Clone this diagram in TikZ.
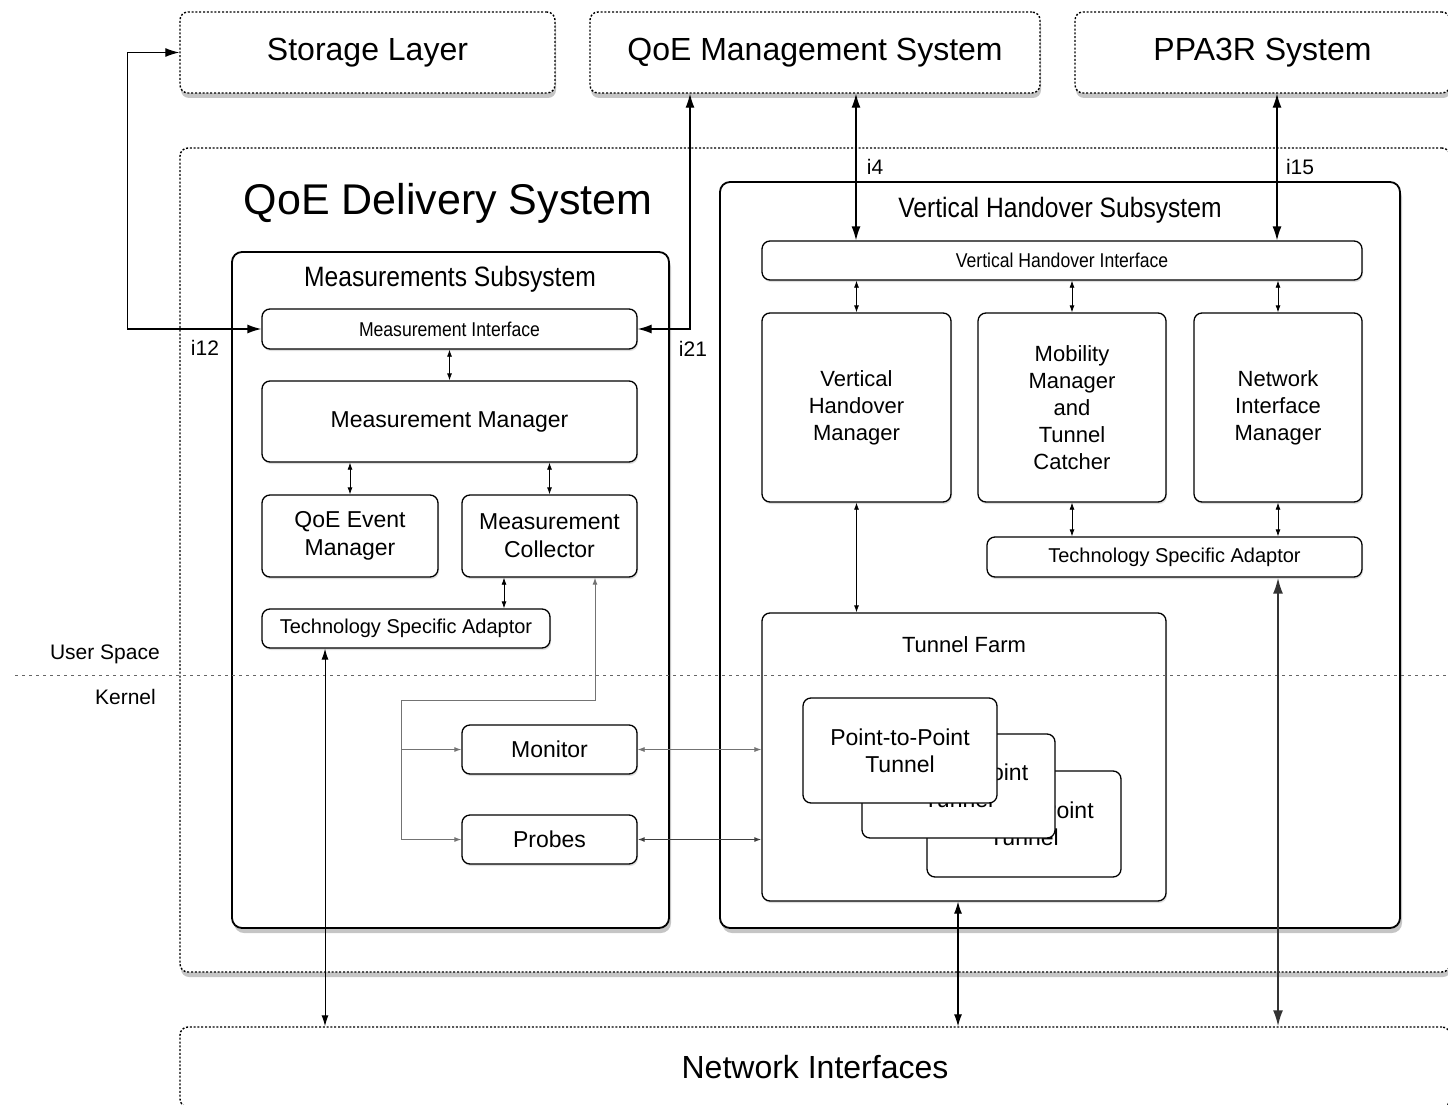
\documentclass[tikz,border=0pt]{standalone}
\usepackage{fontspec}
\setmainfont{Liberation Sans}
\newfontfamily\condfont[FakeStretch=0.88]{Liberation Sans}
\usetikzlibrary{arrows.meta,shadows}
\tikzset{
  outerbox/.style={draw, line width=1.4pt, dash pattern=on 2pt off 1.8pt, rounded corners=8pt, fill=white, inner sep=0pt,
    drop shadow={shadow xshift=1pt, shadow yshift=-5pt, opacity=0.45}},
  subbox/.style={draw, line width=1.8pt, rounded corners=10pt, fill=white, inner sep=0pt,
    drop shadow={shadow xshift=2pt, shadow yshift=-5pt, opacity=0.45}},
  box/.style={draw, line width=1.3pt, rounded corners=8pt, fill=white, align=center, inner sep=0pt,
    font=\fontsize{23}{28}\selectfont,
    drop shadow={shadow xshift=1pt, shadow yshift=-2pt, opacity=0.25}},
  ptp/.style={draw, line width=1.3pt, rounded corners=8pt, fill=white, align=center, inner sep=0pt,
    font=\fontsize{23}{27}\selectfont},
  lbl/.style={inner sep=0pt, font=\fontsize{21}{25}\selectfont},
  stip/.style={{Latex[length=7pt,width=5pt]}-{Latex[length=7pt,width=5pt]}},
  sarrow/.style={line width=0.8pt, stip},
  barrow/.style={line width=1.3pt, {Latex[length=14pt,width=9pt]}-{Latex[length=14pt,width=9pt]}},
  feed/.style={line width=1pt, black!55},
}
\begin{document}
\begin{tikzpicture}[x=1pt, y=-1pt]
\clip (0,0) rectangle (1448,1105);
\fill[white] (0,0) rectangle (1448,1105);

% outer systems
\node[outerbox, minimum width=375, minimum height=81, font=\fontsize{32}{38}\selectfont] (storage) at (367.5,52.5) {\raisebox{-2pt}{Storage Layer}};
\node[outerbox, minimum width=450, minimum height=81, font=\fontsize{32}{38}\selectfont] (qoem) at (815,52.5) {\raisebox{-2pt}{QoE Management System}};
\node[outerbox, minimum width=375, minimum height=81, font=\fontsize{32}{38}\selectfont] (ppa) at (1262.5,52.5) {\raisebox{-2pt}{PPA3R System}};
\node[outerbox, minimum width=1270, minimum height=824] (qds) at (815,560) {};
\node[outerbox, minimum width=1270, minimum height=80, font=\fontsize{32}{38}\selectfont] (ni) at (815,1067) {Network Interfaces};
\node[inner sep=0pt, font=\fontsize{43}{50}\selectfont] (qdstitle) at (448,203) {QoE Delivery System};

% subsystems
\node[subbox, minimum width=437, minimum height=676] (ms) at (450.5,590) {};
\node[inner sep=0pt, font=\condfont\fontsize{28}{32}\selectfont] (mstitle) at (450,279) {Measurements Subsystem};
\node[subbox, minimum width=680, minimum height=746] (vhs) at (1060,555) {};
\node[inner sep=0pt, font=\condfont\fontsize{28}{32}\selectfont] (vhstitle) at (1060,210) {Vertical Handover Subsystem};

% measurement subsystem components
\node[box, minimum width=375, minimum height=40, font=\condfont\fontsize{20}{24}\selectfont] (mi) at (449.5,329) {Measurement Interface};
\node[box, minimum width=375, minimum height=81] (mm) at (449.5,421.5) {Measurement Manager};
\node[box, minimum width=176, minimum height=82] (qem) at (350,536) {QoE Event\\Manager};
\node[box, minimum width=175, minimum height=82] (mc) at (549.5,536) {Measurement\\Collector};
\node[box, minimum width=288, minimum height=39, font=\fontsize{20}{24}\selectfont] (tsal) at (406,628.5) {Technology Specific Adaptor};
\node[box, minimum width=175, minimum height=49] (monitor) at (549.5,749.5) {Monitor};
\node[box, minimum width=175, minimum height=49] (probes) at (549.5,839.5) {Probes};

% vertical handover components
\node[box, minimum width=600, minimum height=39, font=\condfont\fontsize{20}{24}\selectfont] (vhi) at (1062,260.5) {Vertical Handover Interface};
\node[box, minimum width=189, minimum height=189, font=\fontsize{22}{27}\selectfont] (vhm) at (856.5,407.5) {Vertical\\Handover\\Manager};
\node[box, minimum width=188, minimum height=189, font=\fontsize{22}{27}\selectfont] (mmtc) at (1072,407.5) {Mobility\\Manager\\and\\Tunnel\\Catcher};
\node[box, minimum width=168, minimum height=189, font=\fontsize{22}{27}\selectfont] (nim) at (1278,407.5) {Network\\Interface\\Manager};
\node[box, minimum width=375, minimum height=40, font=\fontsize{20}{24}\selectfont] (tsar) at (1174.5,557) {Technology Specific Adaptor};
\node[box, minimum width=404, minimum height=288] (tf) at (964,757) {};
\node[inner sep=0pt, font=\fontsize{22}{26}\selectfont] (tftitle) at (964,645) {Tunnel Farm};
\node[ptp, minimum width=194, minimum height=106] (p3) at (1024,824) {Point-to-Point\\Tunnel};
\node[ptp, minimum width=193, minimum height=104] (p2) at (958.5,786) {Point-to-Point\\Tunnel};
\node[ptp, minimum width=194, minimum height=105] (p1) at (900,750.5) {Point-to-Point\\Tunnel};

% user space / kernel divider
\coordinate (divL) at (15,675);
\coordinate (divR) at (1450,675);
\draw[line width=0.8pt, black!60, dash pattern=on 3pt off 4pt] (divL) -- (divR);
\node[lbl, anchor=east] (us) at (160,654) {User Space};
\node[lbl, anchor=east] (kn) at (156,697) {Kernel};

% external interfaces
\draw[barrow] (mi.west) -- ++(-134,0) |- (storage.west);
\draw[barrow] (mi.east) -| ([xshift=-125pt]qoem.south);
\draw[barrow] ([xshift=41pt]qoem.south) -- ([xshift=41pt]qoem.south |- vhi.north);
\draw[barrow] ([xshift=14.5pt]ppa.south) -- ([xshift=14.5pt]ppa.south |- vhi.north);
\node[lbl] (i12) at (205,348) {i12};
\node[lbl] (i21) at (693,349) {i21};
\node[lbl] (i4) at (875,167) {i4};
\node[lbl] (i15) at (1300,167) {i15};

% internal measurement arrows
\draw[sarrow] (mi.south) -- (mm.north);
\draw[sarrow] (qem.north) -- (qem.north |- mm.south);
\draw[sarrow] (mc.north) -- (mc.north |- mm.south);
\draw[sarrow] ([xshift=-45.5pt]mc.south) -- ([xshift=-45.5pt]mc.south |- tsal.north);
\coordinate (fj) at (595,700);
\coordinate (fc) at (401,700);
\draw[feed, stip] ([xshift=45.5pt]mc.south) -- (fj) -- (fc) |- (probes.west);
\draw[feed, -{Latex[length=7pt,width=5pt]}] (fc |- monitor.west) -- (monitor.west);
\draw[feed, line width=0.8pt, stip] (monitor.east) -- (monitor.east -| tf.west);
\draw[line width=1.2pt, black!75, stip] (probes.east) -- (probes.east -| tf.west);

% internal vertical handover arrows
\draw[sarrow] (vhm.north) -- (vhm.north |- vhi.south);
\draw[sarrow] (mmtc.north) -- (mmtc.north |- vhi.south);
\draw[sarrow] (nim.north) -- (nim.north |- vhi.south);
\draw[sarrow] (vhm.south) -- (vhm.south |- tf.north);
\draw[sarrow] (mmtc.south) -- (mmtc.south |- tsar.north);
\draw[sarrow] (nim.south) -- (nim.south |- tsar.north);

% to network interfaces
\draw[line width=1pt, {Latex[length=11pt,width=7pt]}-{Latex[length=11pt,width=7pt]}] ([xshift=-81pt]tsal.south) -- ([xshift=-81pt]tsal.south |- ni.north);
\draw[line width=1.1pt, {Latex[length=12pt,width=8pt]}-{Latex[length=12pt,width=8pt]}] ([xshift=-6pt]tf.south) -- ([xshift=-6pt]tf.south |- ni.north);
\draw[line width=2pt, black!80, {Latex[length=16pt,width=10pt]}-{Latex[length=16pt,width=10pt]}] (nim.south |- tsar.south) -- (nim.south |- ni.north);
\end{tikzpicture}
\end{document}
